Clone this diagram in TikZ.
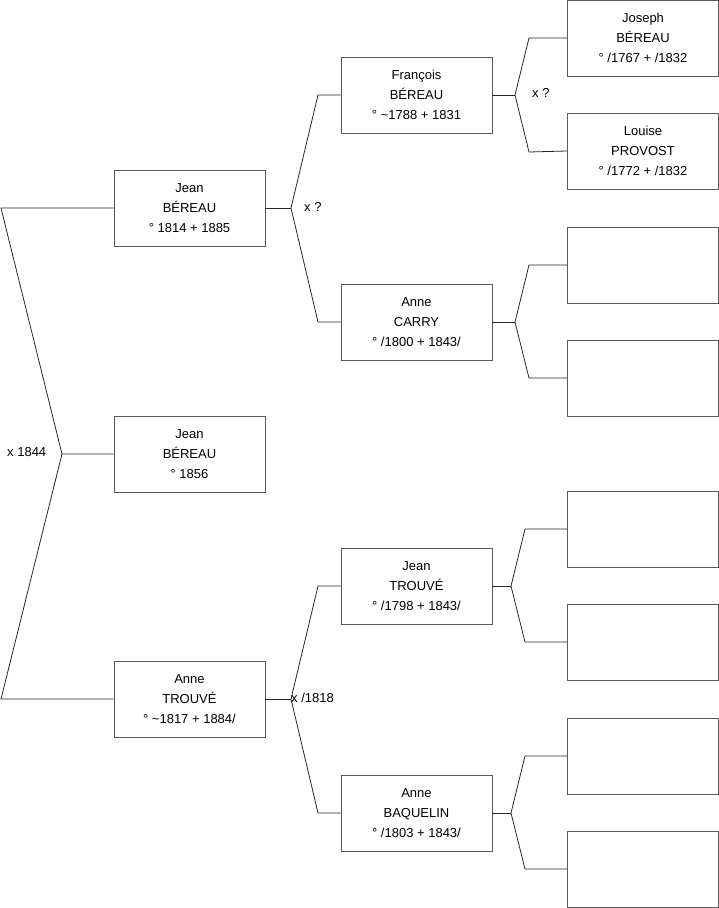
\documentclass[tikz,border=0pt]{standalone}
\usepackage{fontspec}
\setmainfont{Liberation Sans}
\newcommand\pertext[1]{\raisebox{2pt}{\begin{tabular}{@{}c@{}}#1\end{tabular}}}
\begin{document}
\begin{tikzpicture}[x=1pt,y=-1pt,
  person/.style={draw=black!65,line width=0.9pt,minimum width=151pt,minimum height=76pt,inner sep=0pt,font=\fontsize{13}{20}\selectfont,fill=white},
  link/.style={draw=black!85,line width=0.8pt},
  lbl/.style={anchor=west,inner sep=0pt,font=\fontsize{13}{15}\selectfont}]
\useasboundingbox (0,0) rectangle (719,908);
% generation 0/1
\node[person] (jb1) at (189.5,208) {\pertext{Jean\\BÉREAU\\° 1814 + 1885}};
\node[person] (jb0) at (189.5,454) {\pertext{Jean\\BÉREAU\\° 1856}};
\node[person] (at) at (189.5,699) {\pertext{Anne\\TROUVÉ\\° \textasciitilde1817 + 1884/}};
% generation 2
\node[person] (fb) at (416.5,95) {\pertext{François\\BÉREAU\\° \textasciitilde1788 + 1831}};
\node[person] (ac) at (416.5,322) {\pertext{Anne\\CARRY\\° /1800 + 1843/}};
\node[person] (jt) at (416.5,586) {\pertext{Jean\\TROUVÉ\\° /1798 + 1843/}};
\node[person] (ab) at (416.5,813) {\pertext{Anne\\BAQUELIN\\° /1803 + 1843/}};
% generation 3
\node[person] (g1) at (643,38) {\pertext{Joseph\\BÉREAU\\° /1767 + /1832}};
\node[person] (g2) at (643,151) {\pertext{Louise\\PROVOST\\° /1772 + /1832}};
\node[person] (g3) at (643,265) {};
\node[person] (g4) at (643,378) {};
\node[person] (g5) at (643,529) {};
\node[person] (g6) at (643,642) {};
\node[person] (g7) at (643,756) {};
\node[person] (g8) at (643,869) {};
% junction coordinates
\coordinate (c0) at (62,454);
\coordinate (c0a) at (1,208);
\coordinate (c0b) at (1,699);
\coordinate (c1) at (291,208);
\coordinate (c1a) at (318,95);
\coordinate (c1b) at (318,322);
\coordinate (c2) at (291,699);
\coordinate (c2a) at (318,586);
\coordinate (c2b) at (318,813);
\coordinate (c3) at (515,95);
\coordinate (c3a) at (529,38);
\coordinate (c3b) at (529,152);
\coordinate (c4) at (515,322);
\coordinate (c4a) at (529,265);
\coordinate (c4b) at (529,378);
\coordinate (c5) at (511,586);
\coordinate (c5a) at (525,529);
\coordinate (c5b) at (525,642);
\coordinate (c6) at (511,813);
\coordinate (c6a) at (525,756);
\coordinate (c6b) at (525,869);
% connectors
\draw[link] (jb1.west) -- (c0a) -- (c0) -- (jb0.west);
\draw[link] (at.west) -- (c0b) -- (c0);
\draw[link] (jb1.east) -- (c1);
\draw[link] (fb.west) -- (c1a) -- (c1) -- (c1b) -- (ac.west);
\draw[link] (at.east) -- (c2);
\draw[link] (jt.west) -- (c2a) -- (c2) -- (c2b) -- (ab.west);
\draw[link] (fb.east) -- (c3);
\draw[link] (g1.west) -- (c3a) -- (c3) -- (c3b) -- (g2.west);
\draw[link] (ac.east) -- (c4);
\draw[link] (g3.west) -- (c4a) -- (c4) -- (c4b) -- (g4.west);
\draw[link] (jt.east) -- (c5);
\draw[link] (g5.west) -- (c5a) -- (c5) -- (c5b) -- (g6.west);
\draw[link] (ab.east) -- (c6);
\draw[link] (g7.west) -- (c6a) -- (c6) -- (c6b) -- (g8.west);
% labels
\node[lbl] (l0) at (7,452) {x 1844};
\node[lbl] (l1) at (304,207) {x ?};
\node[lbl] (l2) at (291,698) {x /1818};
\node[lbl] (l3) at (532,93) {x ?};
\end{tikzpicture}
\end{document}
